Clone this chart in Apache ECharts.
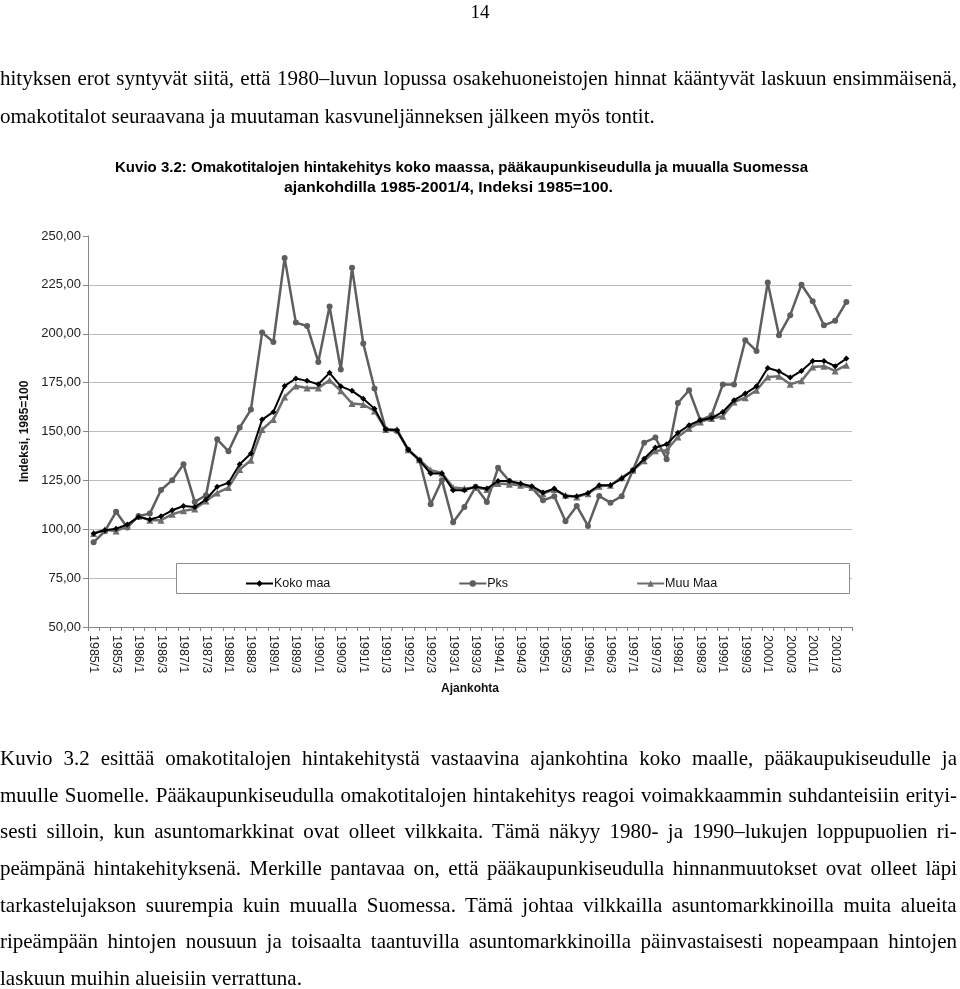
<!DOCTYPE html>
<html>
<head>
<meta charset="utf-8">
<script src="https://cdn.jsdelivr.net/npm/echarts@6/dist/echarts.min.js"></script>
<style>
html,body{margin:0;padding:0;background:#fff;}
#chart{position:absolute;left:0;top:0;width:960px;height:989px;}
.tx{position:absolute;white-space:nowrap;line-height:1;color:#000;transform-origin:0 0;}
</style>
</head>
<body>
<div id="chart"></div>
<script>
// ---- data ----
const categories = ['1985/1','1985/2','1985/3','1985/4','1986/1','1986/2','1986/3','1986/4','1987/1','1987/2','1987/3','1987/4','1988/1','1988/2','1988/3','1988/4','1989/1','1989/2','1989/3','1989/4','1990/1','1990/2','1990/3','1990/4','1991/1','1991/2','1991/3','1991/4','1992/1','1992/2','1992/3','1992/4','1993/1','1993/2','1993/3','1993/4','1994/1','1994/2','1994/3','1994/4','1995/1','1995/2','1995/3','1995/4','1996/1','1996/2','1996/3','1996/4','1997/1','1997/2','1997/3','1997/4','1998/1','1998/2','1998/3','1998/4','1999/1','1999/2','1999/3','1999/4','2000/1','2000/2','2000/3','2000/4','2001/1','2001/2','2001/3','2001/4'];
const kokoMaa = [97.8,99.5,100.3,102.4,106.3,105.0,106.6,109.7,111.9,111.4,115.2,121.7,123.7,133.2,138.7,156.1,160.0,
  173.3,177.1,175.9,174.2,180.0,173.1,170.8,166.8,161.7,151.0,150.6,140.7,135.3,128.5,128.5,120.0,120.0,
  121.7,120.8,124.7,124.7,123.4,122.0,118.8,120.8,116.9,116.9,118.6,122.5,122.5,125.9,130.2,136.1,141.8,
  143.5,149.3,153.2,155.8,156.9,160.0,166.0,169.4,173.1,182.5,180.8,177.6,181.0,186.1,186.1,183.4,187.3];
const pks = [93.3,99.0,108.9,100.9,106.8,108.0,120.1,125.1,133.2,114.0,117.4,146.0,139.9,152.0,161.2,200.6,195.8,
  238.8,205.7,204.0,185.6,213.9,181.7,233.7,195.0,172.0,151.2,150.3,140.7,135.3,112.8,125.1,103.6,111.4,
  121.7,114.0,131.4,124.7,122.5,121.3,114.8,116.9,104.1,111.9,101.7,117.0,113.6,116.9,130.2,144.3,146.9,
  135.8,164.6,171.1,155.8,158.3,174.0,174.0,196.7,191.2,226.2,199.2,209.5,225.1,216.6,204.3,206.6,216.3];
const muuMaa = [97.8,99.8,99.1,101.5,106.6,104.6,104.6,107.7,109.4,110.4,114.5,118.6,121.3,130.5,135.3,151.0,156.1,
  167.7,173.3,172.3,172.3,176.2,170.8,164.3,163.8,160.5,151.0,151.0,140.7,135.6,130.2,128.8,121.3,120.8,
  121.3,120.3,123.4,123.0,122.5,121.3,118.2,120.3,117.4,116.5,118.2,122.0,122.5,126.4,130.2,135.0,140.1,
  140.4,147.2,151.5,154.9,156.6,157.8,165.1,167.3,171.1,177.9,178.3,174.2,175.9,183.0,183.4,181.0,183.9];
const seriesNames = ['Koko maa','Pks','Muu Maa'];
const yTicks = {min:50, max:250, interval:25};

// ---- page text ----
const SERIF = '"Liberation Serif","Times New Roman",serif';
const SANS = '"Liberation Sans",Arial,sans-serif';

function measure(text, font, size, bold) {
  const c = measure.c || (measure.c = document.createElement('canvas').getContext('2d'));
  c.font = (bold ? 'bold ' : '') + size + 'px ' + font;
  return c.measureText(text).width;
}
function place(text, font, size, bold, left, base) {
  const s = document.createElement('div');
  s.className = 'tx';
  s.textContent = text;
  s.style.fontFamily = font;
  s.style.fontSize = size + 'px';
  if (bold) s.style.fontWeight = 'bold';
  s.style.zIndex = 10;
  const asc = font === SERIF ? 0.8375 : 0.8465;
  s.style.top = (base - asc * size) + 'px';
  s.style.left = left + 'px';
  document.body.appendChild(s);
  return s;
}
// paragraph: lines justified to width except the last; font size chosen so last line ends at lastEnd
function paragraph(lines, bases, width, lastEnd, refSize) {
  const last = lines[lines.length - 1];
  const size = refSize * lastEnd / measure(last, SERIF, refSize, false);
  lines.forEach(function(t, i){
    const s = place(t, SERIF, size, false, 0, bases[i]);
    if (i < lines.length - 1) {
      const nat = measure(t, SERIF, size, false);
      const spaces = (t.match(/ /g) || []).length;
      s.style.wordSpacing = ((width - nat) / spaces) + 'px';
    }
  });
}

// page number
(function(){
  const size = 19, w = measure('14', SERIF, size, false);
  place('14', SERIF, size, false, 480 - w / 2, 18);
})();

paragraph([
  'hityksen erot syntyvät siitä, että 1980–luvun lopussa osakehuoneistojen hinnat kääntyvät laskuun ensimmäisenä,',
  'omakotitalot seuraavana ja muutaman kasvuneljänneksen jälkeen myös tontit.'
], [85.5, 124], 957, 655, 19);

// caption
[
  {t:'Kuvio 3.2: Omakotitalojen hintakehitys koko maassa, pääkaupunkiseudulla ja muualla Suomessa', x:115, base:171.5, w:693},
  {t:'ajankohdilla 1985-2001/4, Indeksi 1985=100.', x:284, base:192, w:329}
].forEach(function(p){
  const s = place(p.t, SANS, 14, true, p.x, p.base);
  s.style.transform = 'scaleX(' + (p.w / measure(p.t, SANS, 14, true)) + ')';
});

paragraph([
  'Kuvio 3.2 esittää omakotitalojen hintakehitystä vastaavina ajankohtina koko maalle, pääkaupukiseudulle ja',
  'muulle Suomelle. Pääkaupunkiseudulla omakotitalojen hintakehitys reagoi voimakkaammin suhdanteisiin erityi-',
  'sesti silloin, kun asuntomarkkinat ovat olleet vilkkaita. Tämä näkyy 1980- ja 1990–lukujen loppupuolien ri-',
  'peämpänä hintakehityksenä. Merkille pantavaa on, että pääkaupunkiseudulla hinnanmuutokset ovat olleet läpi',
  'tarkastelujakson suurempia kuin muualla Suomessa. Tämä johtaa vilkkailla asuntomarkkinoilla muita alueita',
  'ripeämpään hintojen nousuun ja toisaalta taantuvilla asuntomarkkinoilla päinvastaisesti nopeampaan hintojen',
  'laskuun muihin alueisiin verrattuna.'
], [765.5, 802.2, 838.9, 875.6, 912.3, 949, 985.7], 957, 302, 18.5);

// ---- chart ----
const chart = echarts.init(document.getElementById('chart'), null, {renderer:'canvas'});
const lbl = {fontFamily: SANS, fontSize: 12, color: '#222'};
chart.setOption({
  animation: false,
  backgroundColor: 'transparent',
  grid: {left: 88, right: 108, top: 236, bottom: 362, containLabel: false},
  graphic: [{
    type: 'rect', z: 3,
    shape: {x: 176.5, y: 563.5, width: 673, height: 30},
    style: {fill: '#fff', stroke: '#8c8c8c', lineWidth: 1}
  }],
  legend: {
    data: seriesNames,
    left: 240, top: 572,
    itemGap: 128, itemWidth: 27, itemHeight: 8,
    textStyle: {fontFamily: SANS, fontSize: 12.5, color: '#111', padding: [0,0,0,-4]},
    z: 5
  },
  xAxis: {
    type: 'category',
    data: categories,
    boundaryGap: true,
    name: 'Ajankohta',
    nameLocation: 'middle',
    nameGap: 56,
    nameTextStyle: {fontFamily: SANS, fontSize: 12, fontWeight: 'bold', color: '#111'},
    axisLine: {lineStyle: {color: '#888', width: 1}},
    axisTick: {show: true, interval: 0, length: 4, lineStyle: {color: '#888'}},
    axisLabel: Object.assign({interval: 1, rotate: -90, margin: 8}, lbl, {fontSize: 12.5}),
    splitLine: {show: false}
  },
  yAxis: {
    type: 'value',
    min: yTicks.min, max: yTicks.max, interval: yTicks.interval,
    name: 'Indeksi, 1985=100',
    nameLocation: 'middle',
    nameGap: 55,
    nameTextStyle: {fontFamily: SANS, fontSize: 12, fontWeight: 'bold', color: '#111'},
    axisLine: {show: true, lineStyle: {color: '#888', width: 1}},
    axisTick: {show: true, length: 5, lineStyle: {color: '#888'}},
    axisLabel: Object.assign({margin: 7, formatter: function(v){ return v.toFixed(2).replace('.', ','); }}, lbl, {fontSize: 13}),
    splitLine: {show: true, showMaxLine: false, lineStyle: {color: '#bdbdbd', width: 1}}
  },
  series: [
    {name: 'Koko maa', type: 'line', data: kokoMaa, z: 4,
     symbol: 'diamond', symbolSize: 6, showSymbol: true,
     lineStyle: {color: '#000', width: 2}, itemStyle: {color: '#000'}},
    {name: 'Pks', type: 'line', data: pks, z: 2,
     symbol: 'circle', symbolSize: 6,
     lineStyle: {color: '#5e5e5e', width: 2.5}, itemStyle: {color: '#5e5e5e'}},
    {name: 'Muu Maa', type: 'line', data: muuMaa, z: 3,
     symbol: 'triangle', symbolSize: 7,
     lineStyle: {color: '#6e6e6e', width: 2.5}, itemStyle: {color: '#6e6e6e'}}
  ]
});
</script>
</body>
</html>
